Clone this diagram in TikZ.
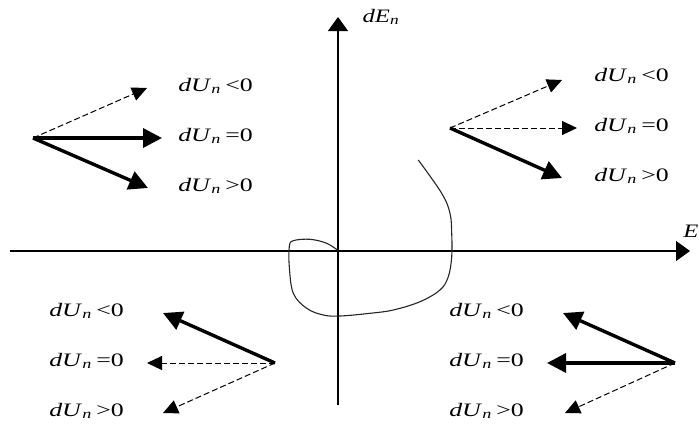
\documentclass[tikz,border=0pt]{standalone}
\usepackage{fontspec}
\setmainfont{Liberation Serif}
\usetikzlibrary{arrows.meta}
\newcommand{\dUlab}[1]{\textit{dU}\textsubscript{\textit{n}}\,#1}
\begin{document}
\begin{tikzpicture}[x=1pt,y=-1pt,
  axis/.style={line width=1.1pt,-{Triangle[length=14pt,width=20pt]}},
  bigarrow/.style={line width=3.4pt,-{Triangle[length=19pt,width=19pt]}},
  dasharrow/.style={line width=1pt,dashed,dash pattern=on 6pt off 3pt,-{Triangle[length=15pt,width=14pt]}},
  lab/.style={font=\fontsize{19}{19}\selectfont,xscale=1.36,anchor=west,inner sep=0pt},
  axlab/.style={font=\fontsize{19}{19}\selectfont,xscale=1.3,inner sep=0pt}]
\useasboundingbox (0,0) rectangle (699,429);
\fill[white] (0,0) rectangle (699,429);
% axes
\coordinate (vb) at (338,405);
\coordinate (vt) at (338,17);
\coordinate (hl) at (10,251);
\coordinate (hr) at (690,251);
\draw[axis] (vb) -- (vt);
\draw[axis] (hl) -- (hr);
\node[axlab] (dE) at (381,17) {\textit{dE}\textsubscript{\textit{n}}};
\node[axlab,anchor=west] (E) at (683,233) {\textit{E}\textsubscript{\textit{n}}};
% curve
\draw[line width=1.1pt,black!85] plot[smooth,tension=0.6] coordinates {(418.3,160) (441.7,193.3) (450,213.3) (451.7,233.3) (451.7,256.7) (448.3,276.7) (440,290) (420,301.7) (393.3,310) (370,313.3) (340,316) (323.3,315) (306.7,308.3) (293.3,293.3) (289.3,266.7) (289.3,246.7) (293.3,240.7) (310,239.3) (326.7,243.3) (338.3,250.7)};
% top-left
\coordinate (o1) at (33,138);
\coordinate (a1) at (147,88);
\coordinate (b1) at (162,138);
\coordinate (c1) at (148,188);
\draw[dasharrow] (o1) -- (a1);
\draw[bigarrow] (o1) -- (b1);
\draw[bigarrow] (o1) -- (c1);
\node[lab] (l1a) at (178,86) {\dUlab{<0}};
\node[lab] (l1b) at (178,136) {\dUlab{=0}};
\node[lab] (l1c) at (178,186) {\dUlab{>0}};
% top-right
\coordinate (o2) at (450,128);
\coordinate (a2) at (562,80);
\coordinate (b2) at (577,128);
\coordinate (c2) at (562,178);
\draw[dasharrow] (o2) -- (a2);
\draw[dasharrow] (o2) -- (b2);
\draw[bigarrow] (o2) -- (c2);
\node[lab] (l2a) at (594,76) {\dUlab{<0}};
\node[lab] (l2b) at (594,126) {\dUlab{=0}};
\node[lab] (l2c) at (594,176) {\dUlab{>0}};
% bottom-left
\coordinate (o3) at (275,363);
\coordinate (a3) at (163,313);
\coordinate (b3) at (147,363);
\coordinate (c3) at (163,413);
\draw[bigarrow] (o3) -- (a3);
\draw[dasharrow] (o3) -- (b3);
\draw[dasharrow] (o3) -- (c3);
\node[lab] (l3a) at (49,311) {\dUlab{<0}};
\node[lab] (l3b) at (49,361) {\dUlab{=0}};
\node[lab] (l3c) at (49,411) {\dUlab{>0}};
% bottom-right
\coordinate (o4) at (675,363);
\coordinate (a4) at (563,313);
\coordinate (b4) at (547,363);
\coordinate (c4) at (565,413);
\draw[bigarrow] (o4) -- (a4);
\draw[bigarrow] (o4) -- (b4);
\draw[dasharrow] (o4) -- (c4);
\node[lab] (l4a) at (449,311) {\dUlab{<0}};
\node[lab] (l4b) at (449,361) {\dUlab{=0}};
\node[lab] (l4c) at (449,411) {\dUlab{>0}};
\end{tikzpicture}
\end{document}
